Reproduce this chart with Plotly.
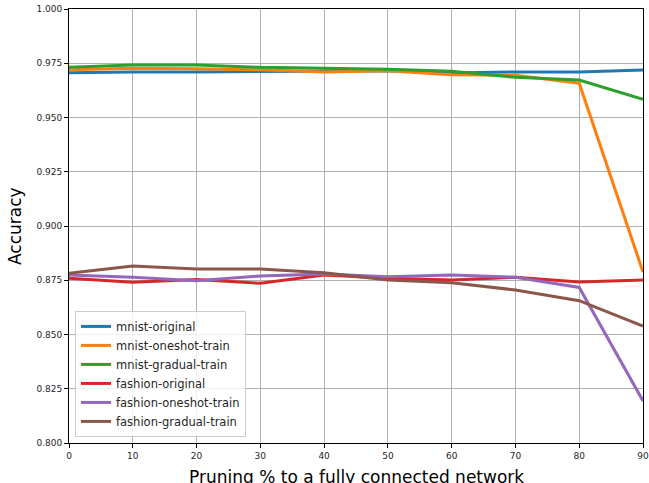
import plotly.graph_objects as go

pruning = [0, 10, 20, 30, 40, 50, 60, 70, 80, 90]
mnist_original = [0.9706, 0.9710, 0.9710, 0.9712, 0.9714, 0.9716, 0.9705, 0.9710, 0.9710, 0.9719]
mnist_oneshot_train = [0.9720, 0.9727, 0.9725, 0.9720, 0.9710, 0.9715, 0.9697, 0.9695, 0.9658, 0.8788]
mnist_gradual_train = [0.9731, 0.9742, 0.9742, 0.9731, 0.9727, 0.9722, 0.9713, 0.9685, 0.9673, 0.9584]
fashion_original = [0.8759, 0.8741, 0.8754, 0.8736, 0.8774, 0.8759, 0.8751, 0.8764, 0.8742, 0.8751]
fashion_oneshot_train = [0.8774, 0.8764, 0.8748, 0.8770, 0.8779, 0.8766, 0.8774, 0.8764, 0.8717, 0.8194]
fashion_gradual_train = [0.8782, 0.8816, 0.8802, 0.8802, 0.8785, 0.8751, 0.8739, 0.8705, 0.8656, 0.8539]

x_title = "Pruning % to a fully connected network"
y_title = "Accuracy"

series = [
    ("mnist-original", mnist_original, "#1f77b4"),
    ("mnist-oneshot-train", mnist_oneshot_train, "#ff7f0e"),
    ("mnist-gradual-train", mnist_gradual_train, "#2ca02c"),
    ("fashion-original", fashion_original, "#d62728"),
    ("fashion-oneshot-train", fashion_oneshot_train, "#9467bd"),
    ("fashion-gradual-train", fashion_gradual_train, "#8c564b"),
]

fig = go.Figure()
for name, vals, color in series:
    fig.add_trace(go.Scatter(x=pruning, y=vals, name=name, mode="lines",
                             line=dict(color=color, width=3)))

axis_common = dict(
    showgrid=True, gridcolor="#b0b0b0", gridwidth=1,
    showline=True, linecolor="black", linewidth=1, mirror=True,
    ticks="outside", ticklen=4, tickcolor="black",
    tickfont=dict(family="DejaVu Sans", size=9, color="#262626"),
    zeroline=False, automargin=False, ticklabeloverflow="allow",
)

fig.update_layout(
    width=649, height=483,
    margin=dict(l=69, r=6, t=9, b=40),
    paper_bgcolor="white", plot_bgcolor="white",
    font=dict(family="DejaVu Sans", color="black"),
    xaxis=dict(range=[0, 90], dtick=10, tick0=0, **axis_common),
    yaxis=dict(range=[0.8, 1.0], dtick=0.025, tick0=0.8, tickformat=".3f", **axis_common),
    legend=dict(x=0.0105, y=0.014, xanchor="left", yanchor="bottom",
                bgcolor="rgba(255,255,255,0.8)", bordercolor="#cccccc", borderwidth=1,
                font=dict(size=11.5, family="DejaVu Sans", color="#262626"),
                tracegroupgap=0, itemwidth=30),
    showlegend=True,
    annotations=[
        dict(text=x_title, xref="paper", yref="paper", x=0.5, y=-0.05,
             xanchor="center", yanchor="top", showarrow=False,
             font=dict(size=17, family="DejaVu Sans", color="black")),
        dict(text=y_title, xref="paper", yref="paper", x=-0.094, y=0.5,
             xanchor="center", yanchor="middle", showarrow=False, textangle=-90,
             font=dict(size=17, family="DejaVu Sans", color="black")),
    ],
)

fig.write_html("out.html", config={"displayModeBar": False},
               post_script="document.body.style.margin='0';document.body.style.overflow='hidden';")
